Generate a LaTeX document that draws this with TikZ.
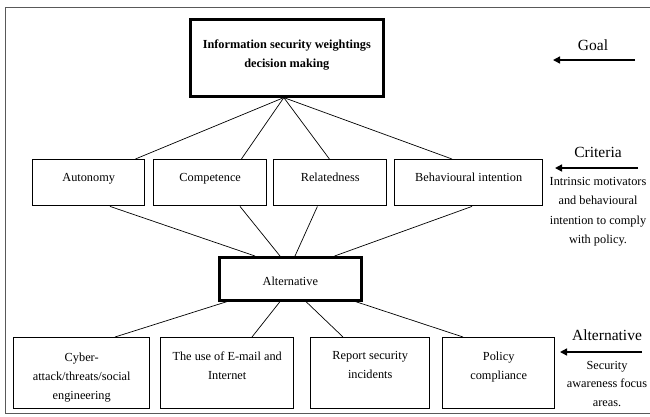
\documentclass[tikz,border=0pt]{standalone}
\usepackage{fontspec}
\setmainfont{Liberation Serif}
\usetikzlibrary{arrows.meta}
% fixed-size text block: width, height, space above first line, text
\newcommand{\bxt}[4]{\begin{minipage}[t][#2][t]{#1}\centering\vspace*{#3}#4\end{minipage}}
\begin{document}
\begin{tikzpicture}[x=1pt,y=-1pt,
  box/.style={draw,line width=1.4pt,align=center,inner sep=0pt,
    font=\fontsize{12.3}{19}\selectfont},
  thickbox/.style={box,line width=2.6pt},
  critbox/.style={box,minimum height=46pt,anchor=north west,text depth=10pt},
  areabox/.style={draw,line width=1.4pt,inner sep=0pt,anchor=north west,
    font=\fontsize{12.3}{19}\selectfont},
  link/.style={line width=0.7pt},
  side/.style={align=center,font=\fontsize{12.3}{19.5}\selectfont,inner sep=0pt},
  level/.style={font=\fontsize{15.5}{18}\selectfont,inner sep=0pt},
  pointer/.style={line width=1.4pt,-{Triangle[length=7pt,width=7pt]}}]
\useasboundingbox (0,0) rectangle (650,416);
% outer frame (open on the right)
\draw[gray!70!black,line width=0.8pt] (652,7) -- (5,7) -- (5,413) -- (652,413);

% goal
\node[areabox,line width=2.6pt,font=\fontsize{12.3}{19}\selectfont\bfseries] (goal) at (189,18)
  {\bxt{193pt}{77pt}{21pt}{Information security weightings\\decision making}};

% criteria
\node[critbox,minimum width=112pt] (aut) at (32,159) {Autonomy};
\node[critbox,minimum width=113pt] (com) at (153,159) {Competence};
\node[critbox,minimum width=113pt] (rel) at (273,159) {Relatedness};
\node[critbox,minimum width=148pt] (beh) at (394,159) {Behavioural intention};

% alternative hub
\node[thickbox,minimum width=142pt,minimum height=43pt,anchor=north west,
  text height=14pt] (alt) at (218,256) {Alternative};

% focus areas
\node[areabox] (cyb) at (13,337)
  {\bxt{136pt}{71pt}{15pt}{Cyber-\\attack/threats/social\\engineering}};
\node[areabox] (mail) at (160,337)
  {\bxt{133pt}{71pt}{14pt}{The use of E-mail and\\Internet}};
\node[areabox] (rep) at (310,337)
  {\bxt{119pt}{71pt}{14pt}{Report security\\incidents}};
\node[areabox] (pol) at (442,337)
  {\bxt{112pt}{71pt}{14pt}{Policy\\compliance}};

% goal to criteria
\coordinate (g) at ([xshift=-3pt]goal.south);
\draw[link] (g) -- ([xshift=-10pt]aut.north east);
\draw[link] (g) -- ([xshift=-26pt]com.north east);
\draw[link] (g) -- ([xshift=-58pt]rel.north east);
\draw[link] (g) -- ([xshift=58pt]beh.north west);

% criteria to alternative
\draw[link] ([xshift=78pt]aut.south west) -- ([xshift=37pt]alt.north west);
\draw[link] ([xshift=87pt]com.south west) -- ([xshift=62pt]alt.north west);
\draw[link] ([xshift=-70pt]rel.south east) -- ([xshift=77pt]alt.north west);
\draw[link] ([xshift=78pt]beh.south west) -- ([xshift=-28pt]alt.north east);

% alternative to focus areas
\draw[link] ([xshift=9pt]alt.south west) -- ([xshift=102pt]cyb.north west);
\draw[link] ([xshift=62pt]alt.south west) -- ([xshift=92pt]mail.north west);
\draw[link] ([xshift=88pt]alt.south west) -- ([xshift=33pt]rep.north west);
\draw[link] ([xshift=-7pt]alt.south east) -- ([xshift=21pt]pol.north west);

% level labels on the right
\node[level] (lgoal) at (593,45) {Goal};
\coordinate (agoal) at (635,60);
\draw[pointer] (agoal) -- (553,60);

\node[level] (lcrit) at (598,152) {Criteria};
\coordinate (acrit) at (638,168);
\draw[pointer] (acrit) -- (555,168);
\node[side,anchor=north] (tcrit) at (598,177)
  {Intrinsic motivators\\and behavioural\\intention to comply\\with policy.};

\node[level] (lalt) at (607,335) {Alternative};
\coordinate (aalt) at (642,352);
\draw[pointer] (aalt) -- (560,352);
\node[side,anchor=north,font=\fontsize{12.3}{18.5}\selectfont] (talt) at (607,361)
  {Security\\awareness focus\\areas.};
\end{tikzpicture}
\end{document}
